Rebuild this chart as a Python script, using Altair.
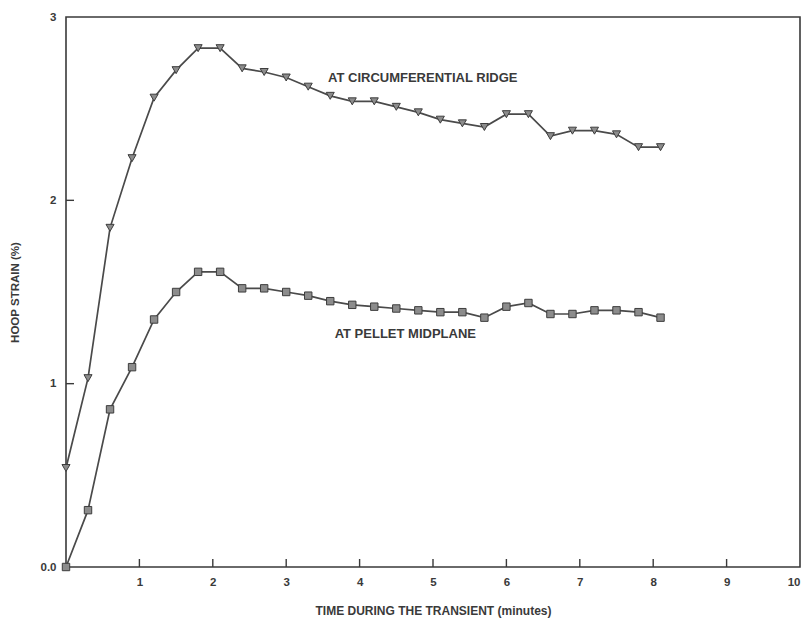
import altair as alt
import pandas as pd

# ---- data ----
time_min = [0.0, 0.3, 0.6, 0.9, 1.2, 1.5, 1.8, 2.1, 2.4, 2.7, 3.0, 3.3, 3.6, 3.9,
            4.2, 4.5, 4.8, 5.1, 5.4, 5.7, 6.0, 6.3, 6.6, 6.9, 7.2, 7.5, 7.8, 8.1]
ridge = [0.54, 1.03, 1.85, 2.23, 2.56, 2.71, 2.83, 2.83, 2.72, 2.70, 2.67, 2.62,
         2.57, 2.54, 2.54, 2.51, 2.48, 2.44, 2.42, 2.40, 2.47, 2.47, 2.35, 2.38,
         2.38, 2.36, 2.29, 2.29]
midplane = [0.00, 0.31, 0.86, 1.09, 1.35, 1.50, 1.61, 1.61, 1.52, 1.52, 1.50, 1.48,
            1.45, 1.43, 1.42, 1.41, 1.40, 1.39, 1.39, 1.36, 1.42, 1.44, 1.38, 1.38,
            1.40, 1.40, 1.39, 1.36]
series_names = ["AT CIRCUMFERENTIAL RIDGE", "AT PELLET MIDPLANE"]
label_x = [3.57, 3.66]
label_y = [2.67, 1.27]
x_ticks = [1, 2, 3, 4, 5, 6, 7, 8, 9, 10]
y_ticks = [0, 1, 2, 3]
x_inner_ticks = [1, 2, 3, 4, 5, 6, 7, 8, 9]
y_inner_ticks = [1, 2]

W, H = 734, 550
FONT = "Liberation Sans"
INK = "#3a3a3a"

ridge_df = pd.DataFrame({"t": time_min, "v": ridge})
mid_df = pd.DataFrame({"t": time_min, "v": midplane})
lab_df = pd.DataFrame({"t": label_x, "v": label_y, "name": series_names})

xs = alt.Scale(domain=[0, 10], nice=False)
ys = alt.Scale(domain=[0, 3], nice=False)

x_axis = alt.Axis(values=x_ticks, ticks=False, domain=False, grid=False, format="d",
                  labelPadding=9, labelFontSize=11.5, labelFontWeight="bold",
                  labelColor=INK, labelFont=FONT,
                  title="TIME DURING THE TRANSIENT (minutes)", titleFont=FONT,
                  titleFontSize=12, titleFontWeight="bold", titleColor=INK,
                  titlePadding=18)
y_axis = alt.Axis(values=y_ticks, ticks=False, domain=False, grid=False,
                  labelExpr="datum.value == 0 ? '0.0' : datum.value",
                  labelPadding=10, labelFontSize=11.5, labelFontWeight="bold",
                  labelColor=INK, labelFont=FONT,
                  title="HOOP STRAIN (%)", titleFont=FONT, titleFontSize=11.5,
                  titleFontWeight="bold", titleColor=INK, titlePadding=20)

base_x = alt.X("t:Q", scale=xs, axis=x_axis)
base_y = alt.Y("v:Q", scale=ys, axis=y_axis)

ridge_line = alt.Chart(ridge_df).mark_line(color="#4a4a4a", strokeWidth=1.7).encode(x=base_x, y=base_y)
ridge_pts = alt.Chart(ridge_df).mark_point(shape="triangle-down", filled=True, fill="#8c8c8c",
                                           stroke="#3d3d3d", strokeWidth=1, size=65, opacity=1).encode(
    x=alt.X("t:Q", scale=xs), y=alt.Y("v:Q", scale=ys))
mid_line = alt.Chart(mid_df).mark_line(color="#4a4a4a", strokeWidth=1.7).encode(
    x=alt.X("t:Q", scale=xs), y=alt.Y("v:Q", scale=ys))
mid_pts = alt.Chart(mid_df).mark_point(shape="square", filled=True, fill="#8c8c8c",
                                       stroke="#3d3d3d", strokeWidth=1, size=55, opacity=1).encode(
    x=alt.X("t:Q", scale=xs), y=alt.Y("v:Q", scale=ys))

labels = alt.Chart(lab_df).mark_text(align="left", baseline="middle", font=FONT,
                                     fontSize=13, fontWeight="bold", color=INK).encode(
    x=alt.X("t:Q", scale=xs), y=alt.Y("v:Q", scale=ys), text="name:N")

xt = alt.Chart(pd.DataFrame({"t": x_inner_ticks})).mark_tick(
    color=INK, thickness=1.4, size=8, orient="vertical", opacity=1).encode(
    x=alt.X("t:Q", scale=xs), y=alt.value(H - 4))
yt = alt.Chart(pd.DataFrame({"v": y_inner_ticks})).mark_tick(
    color=INK, thickness=1.4, size=8, orient="horizontal", opacity=1).encode(
    y=alt.Y("v:Q", scale=ys), x=alt.value(4))

chart = alt.layer(ridge_line, mid_line, ridge_pts, mid_pts, labels, xt, yt).properties(
    width=W, height=H,
    autosize=alt.AutoSizeParams(type="none"),
    padding={"left": 58, "top": 9, "right": 4, "bottom": 52},
    background="white",
).configure_view(stroke=INK, strokeWidth=1.6)

chart.save("out.html", embed_options={"renderer": "svg", "actions": False})
